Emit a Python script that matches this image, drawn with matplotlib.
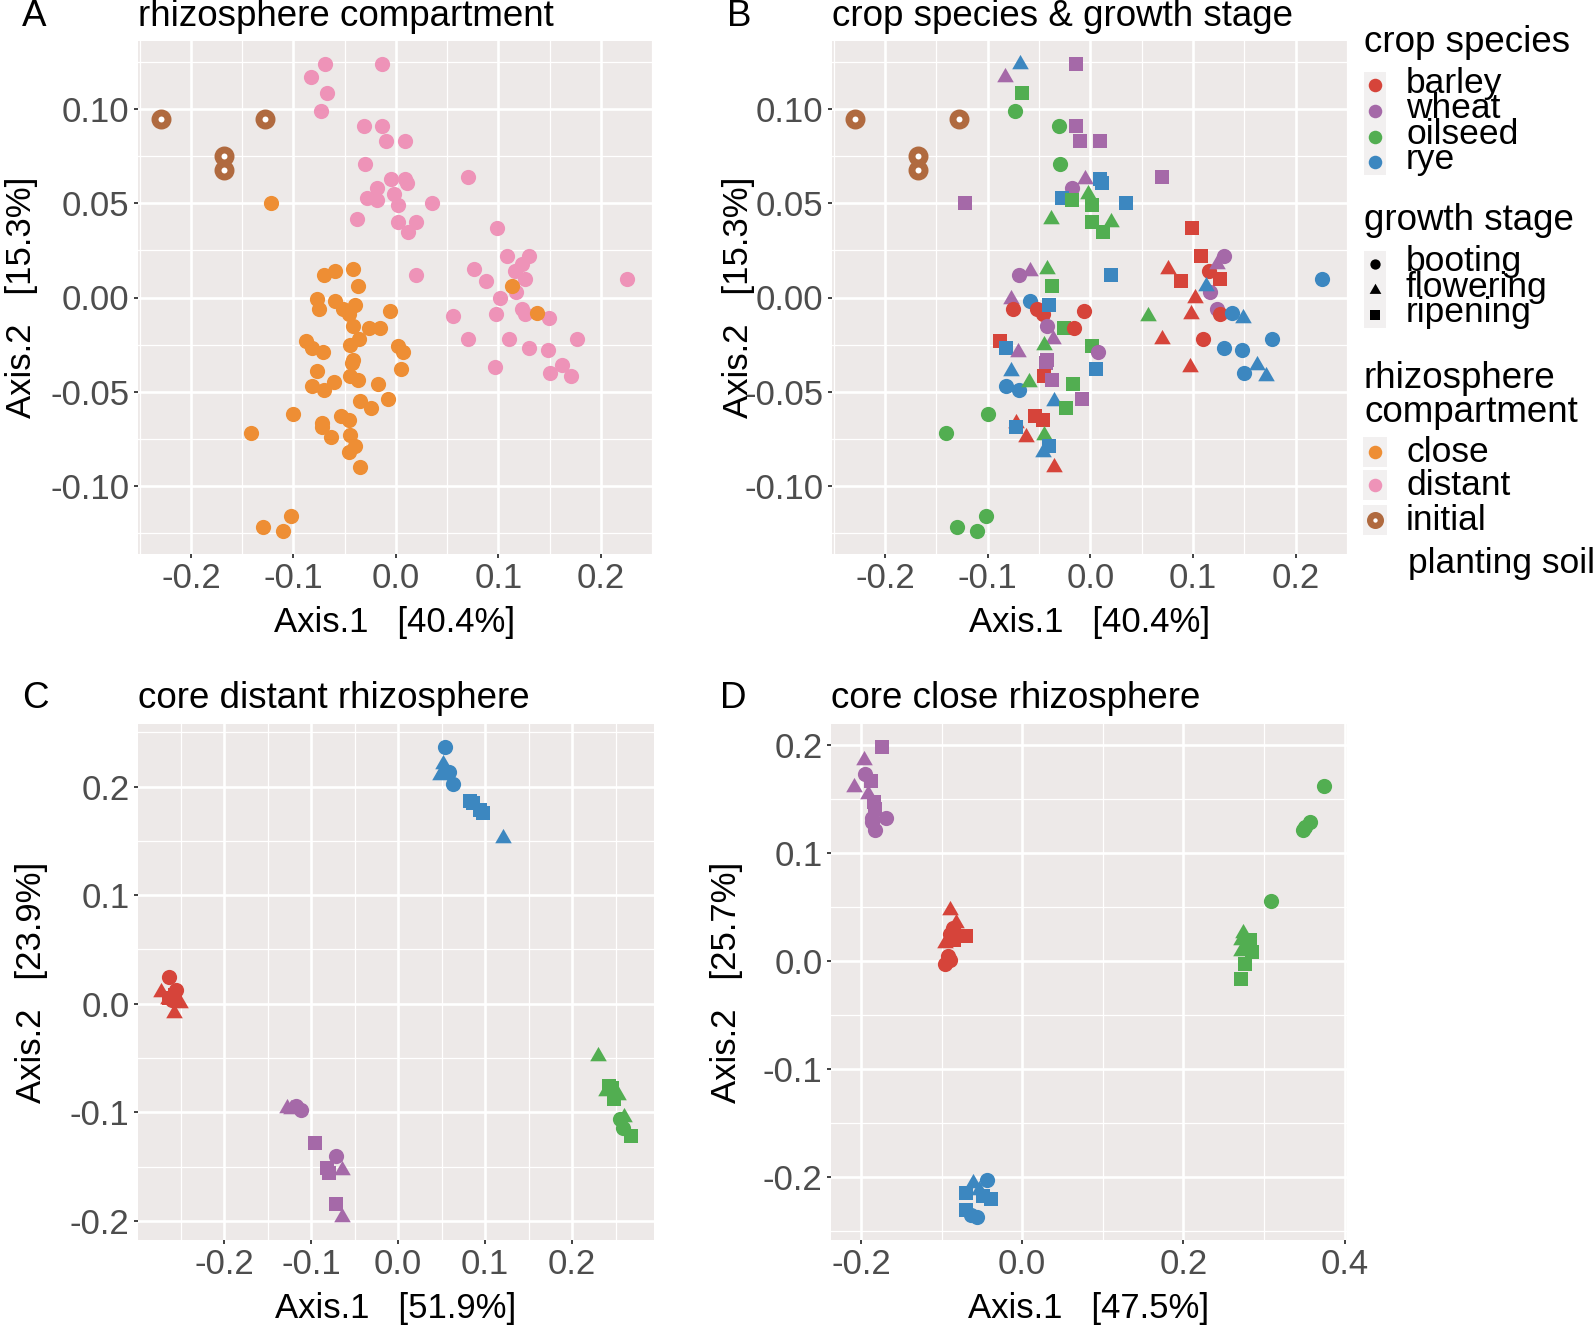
import matplotlib
matplotlib.use('Agg')
import matplotlib.pyplot as plt
import numpy as np
from matplotlib.patches import Rectangle

plt.rcParams['font.family'] = ['Liberation Sans', 'DejaVu Sans']

W, H = 1594, 1333

# ---------------- data: panels A & B (same ordination) ----------------
dist_x = [-0.069, -0.083, -0.067, -0.073, -0.014, -0.031, -0.014, -0.010, 0.009, -0.030,
          -0.005, 0.009, 0.011, -0.018, -0.028, -0.018, -0.002, 0.002, 0.035, -0.038,
          0.002, 0.020, 0.012, 0.070, 0.099, 0.020, 0.108, 0.116, 0.123, 0.130,
          0.126, 0.117, 0.076, 0.088, 0.102, 0.226, 0.056, 0.098, 0.123, 0.126,
          0.149, 0.070, 0.110, 0.177, 0.130, 0.148, 0.097, 0.150, 0.162, 0.171]
dist_y = [0.124, 0.117, 0.109, 0.099, 0.124, 0.091, 0.091, 0.083, 0.083, 0.071,
          0.063, 0.063, 0.061, 0.058, 0.053, 0.052, 0.055, 0.049, 0.050, 0.042,
          0.040, 0.040, 0.035, 0.064, 0.037, 0.012, 0.022, 0.014, 0.018, 0.022,
          0.010, 0.003, 0.015, 0.009, 0.000, 0.010, -0.010, -0.009, -0.006, -0.009,
          -0.011, -0.022, -0.022, -0.022, -0.027, -0.028, -0.037, -0.040, -0.036, -0.042]
dist_crop = ['R', 'W', 'O', 'O', 'W', 'O', 'W', 'W', 'W', 'O',
             'W', 'R', 'R', 'W', 'R', 'O', 'O', 'O', 'R', 'O',
             'O', 'O', 'O', 'W', 'B', 'R', 'B', 'B', 'W', 'W',
             'B', 'W', 'B', 'B', 'B', 'R', 'O', 'B', 'W', 'B',
             'R', 'B', 'B', 'R', 'R', 'R', 'B', 'R', 'R', 'R']
dist_stage = ['f', 'f', 'r', 'b', 'r', 'b', 'r', 'r', 'r', 'b',
              'f', 'r', 'r', 'b', 'r', 'r', 'f', 'r', 'r', 'f',
              'r', 'f', 'r', 'r', 'r', 'r', 'r', 'b', 'f', 'b',
              'r', 'b', 'f', 'r', 'f', 'b', 'f', 'f', 'b', 'b',
              'f', 'f', 'b', 'b', 'b', 'b', 'f', 'b', 'f', 'f']

close_x = [-0.122, -0.070, -0.059, -0.042, -0.037, 0.113, 0.138, -0.077, -0.075, -0.059,
           -0.052, -0.046, -0.040, -0.006, -0.042, -0.026, -0.016, -0.036, -0.045, -0.088,
           -0.082, -0.071, 0.002, 0.007, -0.042, -0.043, -0.077, 0.005, -0.045, -0.037,
           -0.082, -0.070, -0.060, -0.017, -0.008, -0.035, -0.024, -0.100, -0.141, -0.072,
           -0.072, -0.063, -0.054, -0.046, -0.045, -0.040, -0.046, -0.035, -0.130, -0.110,
           -0.102]
close_y = [0.050, 0.012, 0.014, 0.015, 0.006, 0.006, -0.008, -0.001, -0.006, -0.002,
           -0.006, -0.009, -0.004, -0.007, -0.015, -0.016, -0.016, -0.022, -0.025, -0.023,
           -0.027, -0.029, -0.026, -0.029, -0.033, -0.035, -0.039, -0.038, -0.042, -0.044,
           -0.047, -0.049, -0.045, -0.046, -0.054, -0.055, -0.059, -0.062, -0.072, -0.067,
           -0.069, -0.074, -0.063, -0.065, -0.073, -0.079, -0.082, -0.090, -0.122, -0.124,
           -0.116]
close_crop = ['W', 'W', 'W', 'O', 'O', 'R', 'R', 'W', 'B', 'R',
              'B', 'B', 'R', 'B', 'W', 'O', 'B', 'W', 'O', 'B',
              'R', 'W', 'O', 'W', 'W', 'W', 'R', 'R', 'B', 'W',
              'R', 'R', 'O', 'O', 'W', 'R', 'O', 'O', 'O', 'B',
              'R', 'B', 'B', 'B', 'O', 'R', 'R', 'B', 'O', 'O',
              'O']
close_stage = ['r', 'b', 'f', 'f', 'r', 'f', 'b', 'f', 'b', 'b',
               'b', 'b', 'r', 'b', 'b', 'r', 'b', 'f', 'f', 'r',
               'r', 'f', 'r', 'b', 'r', 'r', 'f', 'r', 'r', 'r',
               'b', 'b', 'f', 'r', 'r', 'f', 'r', 'b', 'b', 'f',
               'r', 'f', 'r', 'r', 'f', 'r', 'f', 'f', 'b', 'b',
               'b']

init_x = [-0.229, -0.128, -0.168, -0.168]
init_y = [0.095, 0.095, 0.075, 0.068]

# ---------------- data: panel C (core distant rhizosphere) ----------------
c_x = [-0.263, -0.255, -0.272, -0.263, -0.251, -0.258, -0.260, -0.256, -0.265,
       -0.128, -0.117, -0.112, -0.123, -0.095, -0.072, -0.082, -0.080, -0.065, -0.072, -0.065,
       0.054, 0.051, 0.048, 0.058, 0.063, 0.053, 0.083, 0.086, 0.094, 0.098, 0.120,
       0.230, 0.242, 0.239, 0.248, 0.253, 0.255, 0.259, 0.258, 0.267, 0.246]
c_y = [0.025, 0.013, 0.011, 0.005, 0.001, -0.009, 0.003, 0.008, 0.004,
       -0.096, -0.094, -0.098, -0.097, -0.128, -0.140, -0.151, -0.156, -0.153, -0.184, -0.196,
       0.236, 0.221, 0.211, 0.213, 0.202, 0.216, 0.187, 0.185, 0.178, 0.176, 0.153,
       -0.048, -0.076, -0.080, -0.088, -0.084, -0.106, -0.104, -0.114, -0.122, -0.078]
c_crop = ['B'] * 9 + ['W'] * 11 + ['R'] * 11 + ['O'] * 10
c_stage = ['b', 'b', 'f', 'r', 'f', 'f', 'b', 'r', 'f',
           'f', 'b', 'b', 'f', 'r', 'b', 'r', 'r', 'f', 'r', 'f',
           'b', 'f', 'f', 'b', 'b', 'f', 'r', 'r', 'r', 'r', 'f',
           'f', 'r', 'f', 'r', 'f', 'b', 'f', 'b', 'r', 'r']

# ---------------- data: panel D (core close rhizosphere) ----------------
d_x = [-0.174, -0.196, -0.195, -0.188, -0.208, -0.191, -0.184, -0.182, -0.186, -0.169, -0.186, -0.183,
       -0.090, -0.082, -0.086, -0.069, -0.096, -0.090, -0.085, -0.092, -0.096, -0.090,
       0.374, 0.357, 0.351, 0.348, 0.309, 0.274, 0.271, 0.283, 0.271, 0.285, 0.277, 0.272, 0.279,
       -0.044, -0.061, -0.069, -0.054, -0.038, -0.069, -0.056, -0.064, -0.048]
d_y = [0.198, 0.186, 0.173, 0.167, 0.161, 0.155, 0.147, 0.141, 0.133, 0.133, 0.129, 0.121,
       0.047, 0.035, 0.031, 0.023, 0.017, 0.025, 0.019, 0.005, -0.003, 0.001,
       0.162, 0.129, 0.124, 0.121, 0.056, 0.026, 0.019, 0.019, 0.009, 0.008, -0.003, -0.017, 0.015,
       -0.203, -0.206, -0.215, -0.212, -0.221, -0.231, -0.237, -0.236, -0.218]
d_crop = ['W'] * 12 + ['B'] * 10 + ['O'] * 13 + ['R'] * 9
d_stage = ['r', 'f', 'b', 'r', 'f', 'f', 'r', 'r', 'b', 'b', 'b', 'b',
           'f', 'f', 'b', 'r', 'f', 'b', 'r', 'b', 'b', 'b',
           'b', 'b', 'b', 'b', 'b', 'f', 'f', 'r', 'f', 'r', 'r', 'r', 'r',
           'b', 'f', 'r', 'f', 'r', 'r', 'b', 'b', 'r']

# ---------------- labels ----------------
crop_names = {'B': 'barley', 'W': 'wheat', 'O': 'oilseed', 'R': 'rye'}
stage_names = {'b': 'booting', 'f': 'flowering', 'r': 'ripening'}
crop_order = ['B', 'W', 'O', 'R']
stage_order = ['b', 'f', 'r']
comp_labels = ['close', 'distant', 'initial']

# ---------------- style ----------------
CROP_COL = {'B': '#D6443A', 'W': '#A569A8', 'O': '#52AE51', 'R': '#3C87C0'}
COMP_COL = {'close': '#EE8E34', 'distant': '#EE93B8', 'initial': '#B06A3F'}
TRI = [(0, 0.577), (-0.5, -0.289), (0.5, -0.289)]
STAGE_MK = {'b': 'o', 'f': TRI, 'r': 's'}
STAGE_S = {'b': 120, 'f': 190, 'r': 90}
BG = '#EDE9E8'
FS_TICK = 25
FS_LAB = 25
FS_TITLE = 26.5

fig = plt.figure(figsize=(W / 100, H / 100), dpi=100)


def add_ax(x0, y0, x1, y1):
    return fig.add_axes([x0 / W, 1 - y1 / H, (x1 - x0) / W, (y1 - y0) / H])


def expand(vals):
    lo, hi = min(vals), max(vals)
    r = hi - lo
    return lo - 0.05 * r, hi + 0.05 * r


def style(ax, xt, xtl, yt, ytl, xminor, yminor, xlabel, ylabel, ylab_x):
    ax.set_facecolor(BG)
    for s in ax.spines.values():
        s.set_visible(False)
    ax.set_xticks(xt)
    ax.set_xticklabels(xtl)
    ax.set_yticks(yt)
    ax.set_yticklabels(ytl)
    ax.set_xticks(xminor, minor=True)
    ax.set_yticks(yminor, minor=True)
    ax.tick_params(which='major', length=3, width=1.3, color='#333333',
                   labelsize=FS_TICK, labelcolor='#4D4D4D', pad=3)
    ax.tick_params(which='minor', length=0)
    ax.grid(which='major', color='white', linewidth=1.9)
    ax.grid(which='minor', color='white', linewidth=0.9)
    ax.set_axisbelow(True)
    ax.text(0.5, -0.133, xlabel, transform=ax.transAxes, ha='center', va='center',
            fontsize=FS_LAB, color='black')
    ax.text(ylab_x, 0.5, ylabel, transform=ax.transAxes, ha='center', va='center',
            rotation=90, fontsize=FS_LAB, color='black')


def ring(ax, x, y, s=88, lw=5.0):
    ax.scatter(x, y, s=s, facecolors='white', edgecolors=COMP_COL['initial'],
               linewidths=lw, zorder=3)


all_x = dist_x + close_x + init_x
all_y = dist_y + close_y + init_y

ab_xt = [-0.2, -0.1, 0.0, 0.1, 0.2]
ab_xtl = ['-0.2', '-0.1', '0.0', '0.1', '0.2']
ab_yt = [-0.10, -0.05, 0.0, 0.05, 0.10]
ab_ytl = ['-0.10', '-0.05', '0.00', '0.05', '0.10']
ab_xm = [-0.25, -0.15, -0.05, 0.05, 0.15, 0.25]
ab_ym = [-0.125, -0.075, -0.025, 0.025, 0.075, 0.125]

# ---- Panel A ----
axA = add_ax(138, 41, 652, 554)
axA.scatter(dist_x, dist_y, s=120, color=COMP_COL['distant'], linewidths=0, zorder=3)
axA.scatter(close_x, close_y, s=120, color=COMP_COL['close'], linewidths=0, zorder=3)
ring(axA, init_x, init_y)
axA.set_xlim(*expand(all_x))
axA.set_ylim(*expand(all_y))
style(axA, ab_xt, ab_xtl, ab_yt, ab_ytl, ab_xm, ab_ym,
      'Axis.1   [40.4%]', 'Axis.2   [15.3%]', -0.226)

# ---- Panel B ----
axB = add_ax(832, 41, 1347, 554)
pts_x = dist_x + close_x
pts_y = dist_y + close_y
pts_c = dist_crop + close_crop
pts_s = dist_stage + close_stage
for i in range(len(pts_x)):
    st = pts_s[i]
    axB.scatter([pts_x[i]], [pts_y[i]], s=STAGE_S[st], marker=STAGE_MK[st],
                color=CROP_COL[pts_c[i]], linewidths=0, zorder=3)
ring(axB, init_x, init_y)
axB.set_xlim(*expand(all_x))
axB.set_ylim(*expand(all_y))
style(axB, ab_xt, ab_xtl, ab_yt, ab_ytl, ab_xm, ab_ym,
      'Axis.1   [40.4%]', 'Axis.2   [15.3%]', -0.181)

# ---- Panel C ----
axC = add_ax(138, 724, 654, 1240)
for i in range(len(c_x)):
    st = c_stage[i]
    axC.scatter([c_x[i]], [c_y[i]], s=STAGE_S[st], marker=STAGE_MK[st],
                color=CROP_COL[c_crop[i]], linewidths=0, zorder=3)
axC.set_xlim(*expand(c_x))
axC.set_ylim(*expand(c_y))
style(axC, [-0.2, -0.1, 0.0, 0.1, 0.2], ['-0.2', '-0.1', '0.0', '0.1', '0.2'],
      [-0.2, -0.1, 0.0, 0.1, 0.2], ['-0.2', '-0.1', '0.0', '0.1', '0.2'],
      [-0.25, -0.15, -0.05, 0.05, 0.15, 0.25], [-0.15, -0.05, 0.05, 0.15, 0.25],
      'Axis.1   [51.9%]', 'Axis.2   [23.9%]', -0.207)

# ---- Panel D ----
axD = add_ax(831, 724, 1347, 1240)
for i in range(len(d_x)):
    st = d_stage[i]
    axD.scatter([d_x[i]], [d_y[i]], s=STAGE_S[st], marker=STAGE_MK[st],
                color=CROP_COL[d_crop[i]], linewidths=0, zorder=3)
axD.set_xlim(*expand(d_x))
axD.set_ylim(*expand(d_y))
style(axD, [-0.2, 0.0, 0.2, 0.4], ['-0.2', '0.0', '0.2', '0.4'],
      [-0.2, -0.1, 0.0, 0.1, 0.2], ['-0.2', '-0.1', '0.0', '0.1', '0.2'],
      [-0.1, 0.1, 0.3], [-0.25, -0.15, -0.05, 0.05, 0.15],
      'Axis.1   [47.5%]', 'Axis.2   [25.7%]', -0.2016)

# ---- panel letters & titles ----
def ftext(x, y, s, size=FS_TITLE, **kw):
    fig.text(x / W, 1 - y / H, s, fontsize=size, va='center', ha='left', color='black', **kw)

ftext(22, 17, 'A')
ftext(138, 17, 'rhizosphere compartment')
ftext(727, 17, 'B')
ftext(832, 17, 'crop species & growth stage')
ftext(22, 698, 'C')
ftext(138, 698, 'core distant rhizosphere')
ftext(720, 698, 'D')
ftext(831, 698, 'core close rhizosphere')

# ---- legend (drawn in pixel space) ----
lax = fig.add_axes([0, 0, 1, 1], zorder=5)
lax.set_xlim(0, W)
lax.set_ylim(H, 0)
lax.axis('off')
KX = 1375
TX = 1406
key_bg = '#F2F0F0'

ftext(1364, 43, 'crop species', size=26.5)
crop_key_y = [85, 111, 137, 162]
for k, yy in zip(crop_order, crop_key_y):
    lax.add_patch(Rectangle((KX - 11, yy - 13), 22, 26, color=key_bg, lw=0, zorder=1))
    lax.scatter([KX], [yy], s=95, color=CROP_COL[k], linewidths=0, zorder=2)
    ftext(TX, yy - 2, crop_names[k], size=25.5)

ftext(1364, 221, 'growth stage', size=26.5)
stage_key_y = [264, 290, 315]
stage_key_s = {'b': 55, 'f': 95, 'r': 45}
for k, yy in zip(stage_order, stage_key_y):
    lax.add_patch(Rectangle((KX - 11, yy - 13), 22, 26, color=key_bg, lw=0, zorder=1))
    lax.scatter([KX], [yy], s=stage_key_s[k], marker=STAGE_MK[k], color='black',
                linewidths=0, zorder=2)
    ftext(TX, yy - 2, stage_names[k], size=25.5)

ftext(1364, 379, 'rhizosphere', size=26.5)
ftext(1364, 413, 'compartment', size=26.5)
comp_key_y = [452, 485, 520]
for k, yy in zip(comp_labels, comp_key_y):
    lax.add_patch(Rectangle((KX - 12, yy - 15), 24, 30, color=key_bg, lw=0, zorder=1))
    if k == 'initial':
        lax.scatter([KX], [yy], s=60, facecolors='white', edgecolors=COMP_COL[k],
                    linewidths=4.5, zorder=2)
    else:
        lax.scatter([KX], [yy], s=95, color=COMP_COL[k], linewidths=0, zorder=2)
    ftext(TX, yy, k, size=25.5)
ftext(TX + 2, 563, 'planting soil', size=25.5)

fig.savefig('out.png', dpi=100, facecolor='white')
